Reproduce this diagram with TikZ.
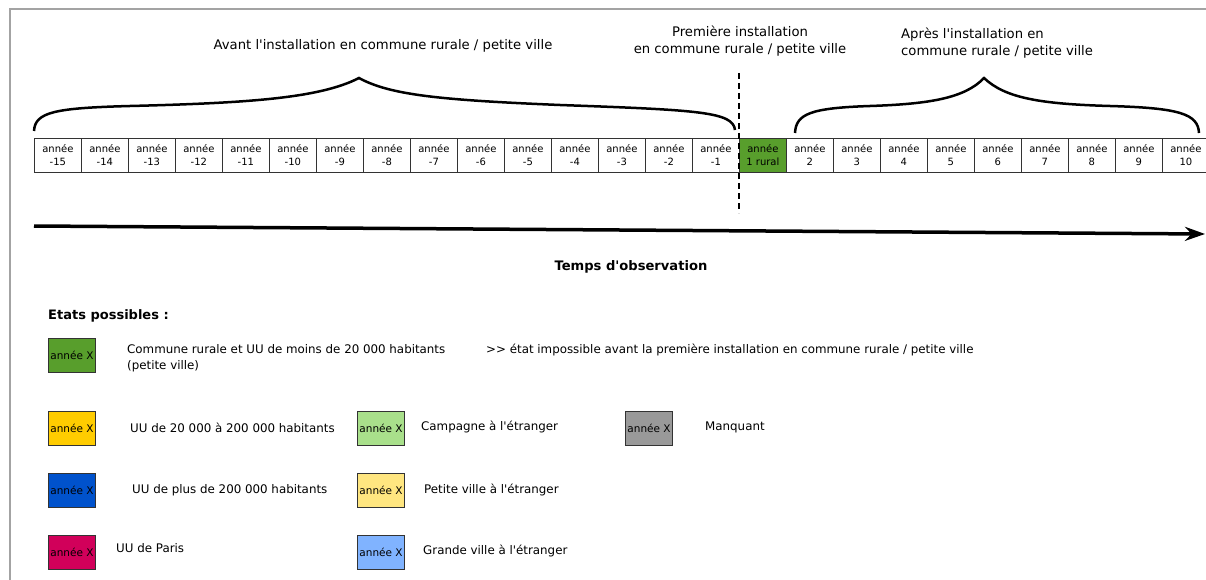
\documentclass[tikz,border=0pt]{standalone}
\usepackage{fontspec}
\setmainfont{DejaVu Sans}[Ligatures=TeXOff]
\usetikzlibrary{arrows.meta}

\definecolor{rural}{RGB}{88,158,44}
\definecolor{moyen}{RGB}{255,204,0}
\definecolor{grand}{RGB}{0,82,204}
\definecolor{paris}{RGB}{209,0,90}
\definecolor{campagne}{RGB}{169,224,139}
\definecolor{petiteetr}{RGB}{255,230,128}
\definecolor{grandeetr}{RGB}{128,179,255}
\definecolor{manque}{RGB}{153,153,153}

\begin{document}
\begin{tikzpicture}[
  x=1pt, y=-1pt,
  every node/.style={align=center, inner sep=0pt},
  cell/.style={draw=black!80, line width=0.8pt, minimum width=47pt, minimum height=34pt, anchor=north west, font=\fontsize{10}{13}\selectfont},
  legbox/.style={draw=black!80, line width=0.8pt, minimum width=47pt, minimum height=34pt, font=\fontsize{10.5}{12}\selectfont},
  legtxt/.style={anchor=west, align=left, font=\fontsize{11.85}{16}\selectfont},
  titre/.style={font=\fontsize{13.2}{17}\selectfont},
  brace/.style={line width=2.5pt},
  arrow/.style={-{Stealth[length=20pt, width=14pt]}, line width=3.5pt}
]

\clip (0,0) rectangle (1206,580);
\draw[manque!90, line width=1.5pt] (10,580) -- (10,9) -- (1206,9);

% TITRES
\node[titre] (avant) at (383,46) {Avant l'installation en commune rurale / petite ville};
\node[titre] (premiere) at (740,41) {Première installation\\en commune rurale / petite ville};
\node[titre, anchor=west, align=left] (apres) at (901,43) {Après l'installation en\\commune rurale / petite ville};

% ANNEES
\foreach \lab [count=\i] in {-15,...,-1}
  \node[cell] (y\i) at (34+47*\i-47,138) {année\\\lab};
\node[cell, fill=rural] (y16) at (739,138) {année\\1 rural};
\foreach \lab [count=\i from 17] in {2,...,10}
  \node[cell] (y\i) at (34+47*\i-47,138) {année\\\lab};

% ACCOLADES
\draw[brace] (34,131) .. controls (35,112) and (55,108) .. (130,106) .. controls (250,103) and (320,98) .. (359,78)
  .. controls (390,95) and (440,100) .. (560,105) .. controls (700,110) and (733,112) .. (735,130);
\draw[brace] (795,133) .. controls (796,114) and (810,108) .. (870,106) .. controls (930,104) and (965,98) .. (984,78)
  .. controls (1005,98) and (1040,104) .. (1110,106) .. controls (1180,108) and (1198,114) .. (1199,133);

\coordinate (d0) at (739,73);
\coordinate (d1) at (739,213);
\draw[line width=2pt, dash pattern=on 6pt off 4pt] (d0) -- (d1);

% TEMPS
\coordinate (t0) at (34,226);
\coordinate (t1) at (1205,234);
\draw[arrow] (t0) -- (t1);
\node[font=\bfseries\fontsize{13.1}{15}\selectfont] (temps) at (631,267) {Temps d'observation};

% LEGENDE
\node[anchor=west, font=\bfseries\fontsize{13}{15}\selectfont] (etats) at (48,316) {Etats possibles :};

\node[legbox, fill=rural] (l1) at (72,355.5) {année X};
\node[legtxt] (t1a) at (127,358) {Commune rurale et UU de moins de 20 000 habitants\\(petite ville)};
\node[legtxt] (t1b) at (486,350) {>{}> état impossible avant la première installation en commune rurale / petite ville};

\node[legbox, fill=moyen] (l2) at (72,428) {année X};
\node[legtxt] (t2) at (130,428) {UU de 20 000 à 200 000 habitants};
\node[legbox, fill=grand] (l3) at (72,490) {année X};
\node[legtxt] (t3) at (132,490) {UU de plus de 200 000 habitants};
\node[legbox, fill=paris] (l4) at (72,552) {année X};
\node[legtxt] (t4) at (116,548) {UU de Paris};

\node[legbox, fill=campagne] (l5) at (381,428) {année X};
\node[legtxt] (t5) at (421,427) {Campagne à l'étranger};
\node[legbox, fill=petiteetr] (l6) at (381,490) {année X};
\node[legtxt] (t6) at (424,490) {Petite ville à l'étranger};
\node[legbox, fill=grandeetr] (l7) at (381,552) {année X};
\node[legtxt] (t7) at (423,551) {Grande ville à l'étranger};

\node[legbox, fill=manque] (l8) at (649,428) {année X};
\node[legtxt] (t8) at (705,427) {Manquant};

\end{tikzpicture}
\end{document}
